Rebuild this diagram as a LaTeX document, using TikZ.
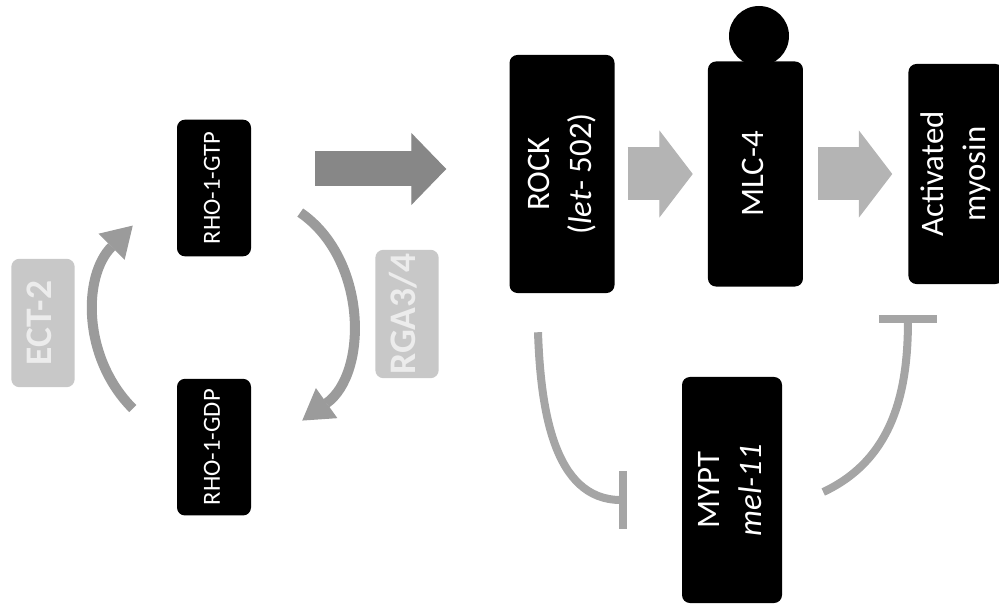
\documentclass[tikz,border=0pt]{standalone}
\usepackage{fontspec}
\setmainfont{Carlito}
\usepackage{graphicx}
\usetikzlibrary{positioning,arrows.meta}
\definecolor{factorgray}{RGB}{200,200,200}
\definecolor{factortext}{RGB}{236,236,236}
\definecolor{signalgray}{RGB}{135,135,135}
\definecolor{relaygray}{RGB}{180,180,180}
\definecolor{cyclegray}{RGB}{155,155,155}
\definecolor{inhibitgray}{RGB}{165,165,165}
\tikzset{
  % Specifications for style of nodes:
  base/.style = {
    rectangle,
    rounded corners=0.24cm,
    inner sep=0pt,
    text centered
  },
  gtpase/.style = {
    base,
    fill=black,
    text=white,
    minimum width=2.22cm,
    minimum height=4.1cm,
    font=\fontsize{21}{25}\selectfont
  },
  protein/.style = {
    base,
    fill=black,
    text=white,
    font=\fontsize{28}{36}\selectfont
  },
  factor/.style = {
    base,
    fill=factorgray,
    text=factortext,
    minimum width=1.9cm,
    minimum height=3.85cm,
    font=\bfseries\fontsize{32}{38}\selectfont
  },
  phospho/.style = {
    circle,
    fill=black,
    inner sep=0pt,
    minimum size=1.8cm
  },
  % Specifications for style of connectors:
  signal/.style = {
    draw=signalgray,
    line width=1.05cm,
    -{Triangle[width=2.16cm, length=1.05cm, line width=1pt]}
  },
  relay/.style = {
    draw=relaygray,
    line width=1.59cm,
    -{Triangle[width=2.61cm, length=1.0cm, line width=1pt]}
  },
  cyclearrow/.style = {
    draw=cyclegray,
    line width=0.3cm,
    -{Triangle[width=1.1cm, length=0.9cm, line width=1pt]}
  },
  inhibit/.style = {
    draw=inhibitgray,
    line width=0.24cm,
    -{Bar[width=1.74cm]}
  },
}
\newcommand{\vtext}[1]{\rotatebox{90}{\begin{tabular}{@{}c@{}}#1\end{tabular}}}

\begin{document}
\begin{tikzpicture}[x=0.03cm, y=0.03cm]
    \useasboundingbox (0,0) rectangle (999,606);
    % Specification of nodes (position, etc.)
    \node[gtpase] (gtp) at (214,418) {\vtext{RHO-1-GTP}};
    \node[gtpase, below=3.66cm of gtp] (gdp) {\vtext{RHO-1-GDP}};
    \node[factor] (ect) at (43,283) {\vtext{ECT-2}};
    \node[factor] (rga) at (407,292) {\vtext{RGA3/4}};
    \node[protein, minimum width=3.15cm, minimum height=7.14cm] (rock) at (562,432)
      {\vtext{ROCK\\(\textit{let}- 502)}};
    \node[phospho] (phos) at (759,570) {};
    \node[protein, minimum width=2.85cm, minimum height=6.75cm, right=2.79cm of rock] (mlc)
      {\vtext{MLC-4}};
    \node[protein, minimum width=2.85cm, minimum height=6.6cm, right=3.15cm of mlc] (myosin)
      {\vtext{Activated\\myosin}};
    \node[protein, minimum width=3.0cm, minimum height=6.78cm] (mypt) at (732,116)
      {\vtext{MYPT\\\textit{mel-11}}};
    % Connectors
    \draw[cyclearrow] ([shift={(-44,-30)}]gdp.north west) to[bend left=45] ([shift={(-44,31)}]gtp.south west);
    \draw[cyclearrow] ([shift={(49,44)}]gtp.south east) to[bend left=55] ([shift={(51,-42)}]gdp.north east);
    \draw[signal] ([shift={(64,19)}]gtp.east) -- ([shift={(-63,5)}]rock.west);
    \draw[relay, shorten <=0.39cm, shorten >=0.45cm] (rock) -- (mlc);
    \draw[relay, shorten <=0.45cm, shorten >=0.48cm] (mlc) -- (myosin);
    \draw[inhibit] ([shift={(-24,-39)}]rock.south) to[out=-88, in=180] ([shift={(-55,-10)}]mypt.west);
    \draw[inhibit] ([shift={(41,-2)}]mypt.east) to[out=25, in=-90] ([shift={(-48,-31)}]myosin.south);
  \end{tikzpicture}
\end{document}
